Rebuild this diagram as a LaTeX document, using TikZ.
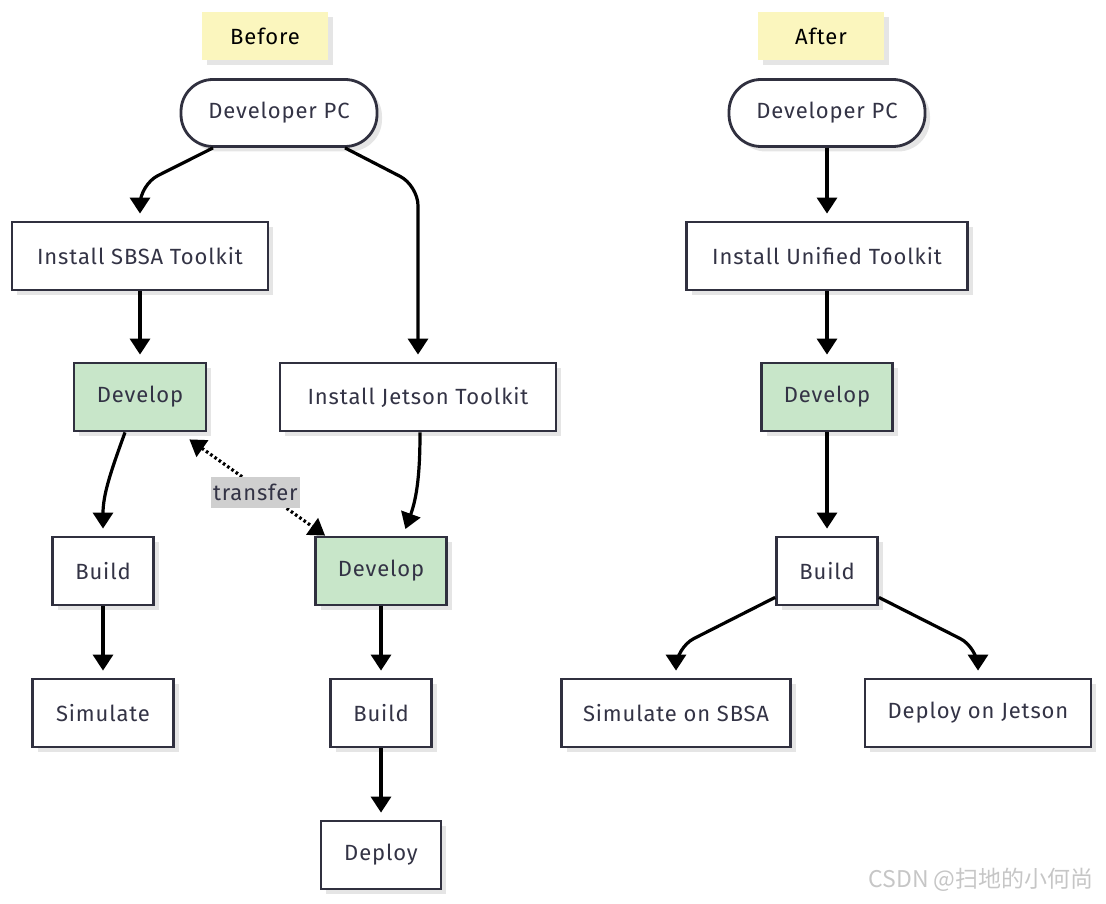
\documentclass[tikz,border=0pt]{standalone}
\usepackage{fontspec}
\setmainfont{Fira Sans}[LetterSpace=4]
\newfontfamily\cjkfont{Noto Sans CJK SC}
\usepackage{xcolor}
\usetikzlibrary{arrows.meta,calc,positioning,shadows}
\definecolor{boxline}{HTML}{30303F}
\definecolor{boxtext}{HTML}{333345}
\definecolor{devgreen}{HTML}{C8E6C9}
\definecolor{headyellow}{HTML}{FBF6BE}
\definecolor{labelgray}{HTML}{CFCFCF}
\tikzset{%
	boxshadow/.style = {drop shadow={shadow xshift=2.5pt, shadow yshift=-2.5pt, opacity=0.10, fill=black}},
	terminal/.style  = {draw=boxline, line width=1.4pt, rounded corners=16pt, fill=white, minimum width=98pt, minimum height=33.5pt, text=boxtext, font=\fontsize{11}{13}\selectfont, boxshadow},
	process/.style   = {draw=boxline, line width=1.4pt, fill=white, minimum height=34pt, text=boxtext, font=\fontsize{11}{13}\selectfont, boxshadow},
	develop/.style   = {process, fill=devgreen},
	heading/.style   = {fill=headyellow, minimum width=63pt, minimum height=24pt, text=black, font=\fontsize{11}{13}\selectfont, boxshadow},
	arrow/.style     = {line width=1.6pt, -{Triangle[length=8pt,width=10pt]}, shorten >=3.5pt},
	transfer/.style  = {line width=1.6pt, dash pattern=on 1.3pt off 1.3pt, {Triangle[length=8pt,width=10pt]}-{Triangle[length=8pt,width=10pt]}},
	tlabel/.style    = {fill=labelgray, text=boxtext, inner xsep=1pt, inner ysep=0pt, minimum height=15.5pt, font=\fontsize{11}{13}\selectfont},
}

\begin{document}
\begin{tikzpicture}[x=0.5pt,y=-0.5pt]
	\useasboundingbox (0,0) rectangle (1106,903);
	% before
	\node[heading] (before) at (265,36) {Before};
	\node[terminal] (pcA) at (279,113) {Developer PC};
	\node[process, minimum width=128pt] (sbsa) at (140,256) {Install SBSA Toolkit};
	\node[develop, minimum width=66pt] (devA) at (140,397) {Develop};
	\node[process, minimum width=138pt] (jetson) at (418,397) {Install Jetson Toolkit};
	\node[process, minimum width=50.5pt] (buildA) at (103,571) {Build};
	\node[develop, minimum width=65.5pt] (devB) at (381,571) {Develop};
	\node[process, minimum width=70.5pt] (sim) at (103,713) {Simulate};
	\node[process, minimum width=50.5pt] (buildB) at (381,713) {Build};
	\node[process, minimum width=60pt] (deploy) at (381,855) {Deploy};
	% after
	\node[heading] (after) at (821,36) {After};
	\node[terminal] (pcB) at (827,113) {Developer PC};
	\node[process, minimum width=140.5pt] (unified) at (827,256) {Install Unified Toolkit};
	\node[develop, minimum width=65.5pt] (devC) at (827,397) {Develop};
	\node[process, minimum width=50.5pt] (buildC) at (827,571) {Build};
	\node[process, minimum width=114.5pt] (simC) at (676,713) {Simulate on SBSA};
	\node[process, minimum width=113pt] (depC) at (978,713) {Deploy on Jetson};
	\node[text=gray!45, font=\cjkfont\fontsize{11.5}{13}\selectfont] (mark) at (981,880) {CSDN @扫地的小何尚};

	\draw[arrow, rounded corners=10pt] ($(pcA.south)+(-66,0)$) -- ($(sbsa.north)+(0,-36)$) -- (sbsa.north);
	\draw[arrow, rounded corners=10pt] ($(pcA.south)+(66,0)$) -- ($(jetson.north)+(0,-176)$) -- (jetson.north);
	\draw[arrow] (sbsa) -- (devA);
	\draw[arrow] ($(devA.south)+(-15,0)$) to[out=-110,in=90] (buildA.north);
	\draw[arrow] ($(jetson.south)+(2,0)$) to[out=-90,in=70] ($(devB.north)+(22,0)$);
	\draw[arrow] (buildA) -- (sim);
	\draw[arrow] (devB) -- (buildB);
	\draw[arrow] (buildB) -- (deploy);
	\draw[transfer] ($(devA.south east)+(-18,7)$) -- node[tlabel, pos=0.53, xshift=-3pt, yshift=-1pt] {transfer} ($(devB.north west)+(11,0)$);

	\draw[arrow] (pcB) -- (unified);
	\draw[arrow] (unified) -- (devC);
	\draw[arrow] (devC) -- (buildC);
	\draw[arrow, rounded corners=10pt] ($(buildC.south west)+(0,-9)$) -- ($(simC.north)+(0,-30)$) -- (simC.north);
	\draw[arrow, rounded corners=10pt] ($(buildC.south east)+(0,-9)$) -- ($(depC.north)+(0,-30)$) -- (depC.north);
\end{tikzpicture}
\end{document}
